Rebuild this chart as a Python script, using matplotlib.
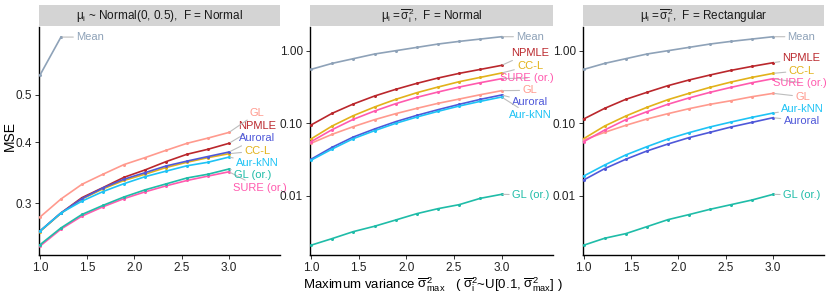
import matplotlib
matplotlib.use("Agg")
import matplotlib.pyplot as plt
from matplotlib.patches import Rectangle
from matplotlib.ticker import NullLocator

plt.rcParams["font.family"] = ["Liberation Sans", "DejaVu Sans"]
plt.rcParams["mathtext.fontset"] = "custom"
plt.rcParams["mathtext.rm"] = "Liberation Sans"
plt.rcParams["mathtext.it"] = "Liberation Sans:italic"
plt.rcParams["mathtext.bf"] = "Liberation Sans:bold"

# max variance grid
sigma_max = [1.0, 1.222, 1.444, 1.667, 1.889, 2.111, 2.333, 2.556, 2.778, 3.0]

methods = ["Mean", "NPMLE", "CC-L", "SURE (or.)", "GL", "Auroral", "Aur-kNN", "GL (or.)"]
colors = {
    "Mean": "#8EA2B8",
    "NPMLE": "#BA272C",
    "CC-L": "#E2B21A",
    "SURE (or.)": "#FF5AAE",
    "GL": "#FF9A8E",
    "Auroral": "#4F58D9",
    "Aur-kNN": "#1EC3F5",
    "GL (or.)": "#1FBCA8",
}

# panel 1: mu ~ Normal(0, 0.5), F = Normal  (Mean leaves the plotted range after 2 points)
mse_normal_mu = {
    "Mean": [0.549, 0.657],
    "NPMLE": [0.263, 0.2865, 0.308, 0.323, 0.339, 0.351, 0.365, 0.378, 0.387, 0.398],
    "CC-L": [0.2625, 0.286, 0.306, 0.321, 0.334, 0.344, 0.355, 0.364, 0.372, 0.379],
    "SURE (or.)": [0.245, 0.2655, 0.2823, 0.295, 0.3066, 0.3165, 0.3256, 0.334, 0.341, 0.348],
    "GL": [0.281, 0.306, 0.328, 0.344, 0.360, 0.372, 0.385, 0.398, 0.408, 0.419],
    "Auroral": [0.263, 0.2865, 0.3066, 0.3225, 0.336, 0.3465, 0.3576, 0.366, 0.374, 0.382],
    "Aur-kNN": [0.263, 0.2865, 0.303, 0.317, 0.329, 0.340, 0.349, 0.358, 0.364, 0.373],
    "GL (or.)": [0.2466, 0.267, 0.2845, 0.297, 0.309, 0.3195, 0.3286, 0.338, 0.344, 0.3526],
}

# panel 2: mu = sigma^2, F = Normal
mse_var_normal = {
    "Mean": [0.553, 0.669, 0.776, 0.900, 1.0, 1.111, 1.235, 1.344, 1.447, 1.558],
    "NPMLE": [0.0948, 0.1374, 0.1845, 0.2377, 0.2938, 0.3552, 0.4206, 0.4876, 0.553, 0.628],
    "CC-L": [0.0609, 0.0919, 0.1275, 0.1678, 0.2139, 0.2642, 0.316, 0.3744, 0.4296, 0.493],
    "SURE (or.)": [0.0559, 0.0818, 0.1135, 0.1478, 0.1865, 0.228, 0.270, 0.316, 0.363, 0.412],
    "GL": [0.0531, 0.0706, 0.090, 0.1123, 0.1359, 0.1609, 0.1885, 0.216, 0.248, 0.2815],
    "Auroral": [0.0320, 0.0468, 0.0648, 0.0836, 0.1054, 0.1288, 0.1542, 0.1826, 0.214, 0.2455],
    "Aur-kNN": [0.0310, 0.0443, 0.0615, 0.0793, 0.100, 0.1222, 0.1463, 0.1732, 0.2009, 0.2303],
    "GL (or.)": [0.00210, 0.00259, 0.00323, 0.00383, 0.00467, 0.00571, 0.00669, 0.00760, 0.00929, 0.01054],
}

# panel 3: mu = sigma^2, F = Rectangular
mse_var_rect = {
    "Mean": [0.553, 0.669, 0.776, 0.900, 1.0, 1.111, 1.235, 1.344, 1.447, 1.558],
    "NPMLE": [0.1147, 0.1609, 0.2139, 0.267, 0.330, 0.3948, 0.4625, 0.5364, 0.6087, 0.6838],
    "CC-L": [0.0615, 0.0919, 0.126, 0.166, 0.2117, 0.2587, 0.3129, 0.3705, 0.4296, 0.4876],
    "SURE (or.)": [0.0559, 0.0809, 0.1123, 0.1446, 0.183, 0.2235, 0.267, 0.313, 0.363, 0.412],
    "GL": [0.0590, 0.0752, 0.0939, 0.1147, 0.1359, 0.159, 0.1826, 0.205, 0.2328, 0.2587],
    "Auroral": [0.0166, 0.0238, 0.0320, 0.0416, 0.0519, 0.0635, 0.0752, 0.0891, 0.1032, 0.1197],
    "Aur-kNN": [0.0188, 0.0267, 0.0367, 0.0477, 0.0609, 0.0744, 0.0891, 0.1043, 0.1210, 0.1388],
    "GL (or.)": [0.00210, 0.00262, 0.00303, 0.00378, 0.00472, 0.00554, 0.00655, 0.00760, 0.00881, 0.01054],
}

# repelled label spots (x, y) per panel
label_pos_1 = {
    "Mean": (1.53, 0.657), "GL": (3.30, 0.459), "NPMLE": (3.30, 0.431),
    "Auroral": (3.30, 0.408), "CC-L": (3.30, 0.384), "Aur-kNN": (3.30, 0.363),
    "GL (or.)": (3.25, 0.342), "SURE (or.)": (3.33, 0.3225),
}
label_pos_2 = {
    "Mean": (3.30, 1.558), "NPMLE": (3.295, 0.939), "CC-L": (3.30, 0.622),
    "SURE (or.)": (3.27, 0.421), "GL": (3.295, 0.285), "Auroral": (3.30, 0.195),
    "Aur-kNN": (3.305, 0.129), "GL (or.)": (3.305, 0.01035),
}
label_pos_3 = {
    "Mean": (3.30, 1.558), "NPMLE": (3.30, 0.786), "CC-L": (3.30, 0.531),
    "SURE (or.)": (3.28, 0.363), "GL": (3.31, 0.233), "Aur-kNN": (3.31, 0.159),
    "Auroral": (3.30, 0.108), "GL (or.)": (3.30, 0.0103),
}

titles = [
    r"$\mathregular{\mu_i}$ ~ Normal(0, 0.5),  F = Normal",
    r"$\mathregular{\mu_i = \overline{\sigma}_i^2}$,  F = Normal",
    r"$\mathregular{\mu_i = \overline{\sigma}_i^2}$,  F = Rectangular",
]

fig = plt.figure(figsize=(8.3, 2.97), dpi=100)
lefts = [39 / 830, 310 / 830, 582.7 / 830]
widths = [241 / 830, 243 / 830, 241.6 / 830]
bottom = 42 / 297
height = 228 / 297

panels = [
    (mse_normal_mu, label_pos_1, (0.235, 0.689), [0.3, 0.4, 0.5], ["0.3", "0.4", "0.5"]),
    (mse_var_normal, label_pos_2, (0.00154, 2.12), [0.01, 0.1, 1.0], ["0.01", "0.10", "1.00"]),
    (mse_var_rect, label_pos_3, (0.00154, 2.12), [0.01, 0.1, 1.0], ["0.01", "0.10", "1.00"]),
]

draw_order = ["Mean", "NPMLE", "CC-L", "GL", "Auroral", "Aur-kNN", "SURE (or.)", "GL (or.)"]

for i, (data, lab, ylim, yt, ytl) in enumerate(panels):
    ax = fig.add_axes([lefts[i], bottom, widths[i], height])
    ax.set_yscale("log")
    for m in draw_order:
        vals = data[m]
        xs = sigma_max[:len(vals)]
        ax.plot(xs, vals, color=colors[m], lw=1.2, marker="o", ms=2.2,
                mew=0, clip_on=False, zorder=3)
        lx, ly = lab[m]
        ax.annotate(m, xy=(xs[-1], vals[-1]), xytext=(lx, ly),
                    color=colors[m], fontsize=8, ha="center", va="center",
                    arrowprops=dict(arrowstyle="-", color="#BDBDBD", lw=0.8,
                                    shrinkA=0, shrinkB=1))
    ax.set_xlim(0.99, 3.54)
    ax.set_ylim(*ylim)
    ax.set_xticks([1.0, 1.5, 2.0, 2.5, 3.0])
    ax.set_xticklabels(["1.0", "1.5", "2.0", "2.5", "3.0"])
    ax.set_yticks(yt)
    ax.set_yticklabels(ytl)
    ax.yaxis.set_minor_locator(NullLocator())
    ax.tick_params(labelsize=8.5, length=3, width=0.7, colors="#333333",
                   labelcolor="#222222", pad=2)
    for s in ["top", "right"]:
        ax.spines[s].set_visible(False)
    for s in ["left", "bottom"]:
        ax.spines[s].set_linewidth(1.0)
        ax.spines[s].set_color("black")
    strip = Rectangle((0, 1.004), 1, 0.092, transform=ax.transAxes,
                      facecolor="#D4D4D4", edgecolor="none", clip_on=False)
    ax.add_patch(strip)
    ax.text(0.5, 1.05, titles[i], transform=ax.transAxes, ha="center",
            va="center", fontsize=8.5, color="#1A1A1A")
    if i == 0:
        fig.text(10 / 830, 1 - 136 / 297, "MSE", rotation=90, fontsize=10,
                 ha="center", va="center")

fig.text(432.5 / 830, 1 - 288 / 297,
         r"Maximum variance $\mathregular{\overline{\sigma}^2_{max}}$"
         r"   ( $\mathregular{\overline{\sigma}^2_i}$~U[0.1, "
         r"$\mathregular{\overline{\sigma}^2_{max}}$] )",
         fontsize=9.5, ha="center", va="baseline")

fig.savefig("out.png", dpi=100)
